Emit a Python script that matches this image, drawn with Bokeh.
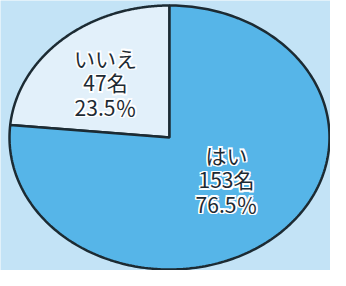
import numpy as np
from bokeh.plotting import figure
from bokeh.models import Range1d, ColumnDataSource
from bokeh.core.properties import value
from bokeh.embed import file_html
from bokeh.resources import INLINE

# Data
categories = ["はい", "いいえ"]
counts = [153, 47]
percents = ["76.5％", "23.5％"]
colors = ["#56b5e8", "#e2f0fa"]

W, H = 330, 270
p = figure(width=W, height=H, output_backend="svg", toolbar_location=None,
           x_range=Range1d(0, W), y_range=Range1d(0, H), min_border=0)
p.axis.visible = False
p.grid.visible = False
p.outline_line_color = None
p.background_fill_color = "#c3e3f6"
p.border_fill_color = "#c3e3f6"

# ellipse geometry (plot pixel units)
cx, cy = 169, H - 137
rx, ry = 160, 132

total = sum(counts)
start = np.pi / 2
xs, ys = [], []
order = [1, 0]  # いいえ counter-clockwise from 12 o'clock, then はい
a0 = start
for i in order:
    frac = counts[i] / total
    a1 = a0 + frac * 2 * np.pi
    t = np.linspace(a0, a1, 240)
    px = np.concatenate([[cx], cx + rx * np.cos(t), [cx]])
    py = np.concatenate([[cy], cy + ry * np.sin(t), [cy]])
    xs.append(list(px)); ys.append(list(py))
    a0 = a1

src = ColumnDataSource(dict(xs=xs, ys=ys, color=[colors[i] for i in order]))
p.patches("xs", "ys", source=src, fill_color="color", line_color="#1c2b33",
          line_width=2.5)

# labels
lab_x = [226, 105]
lab_y = [154, 57]
tx, ty, tt = [], [], []
for i in range(2):
    lines = [categories[i], f"{counts[i]}名", percents[i]]
    for k, s in enumerate(lines):
        tx.append(lab_x[i])
        ty.append(H - (lab_y[i] + k * 24.5))
        tt.append(s)

font = value("Noto Sans CJK JP")
# white halo
for dx in (-1.5, 0, 1.5):
    for dy in (-1.5, 0, 1.5):
        if dx == 0 and dy == 0:
            continue
        p.text(x=tx, y=ty, text=tt, text_align="center", text_baseline="middle",
               text_font=font, text_font_size="21px", text_color="white",
               x_offset=dx, y_offset=dy)
p.text(x=tx, y=ty, text=tt, text_align="center", text_baseline="middle",
       text_font=font, text_font_size="21px", text_color="#1d2a33")

open("out.html", "w").write(file_html(p, INLINE))
